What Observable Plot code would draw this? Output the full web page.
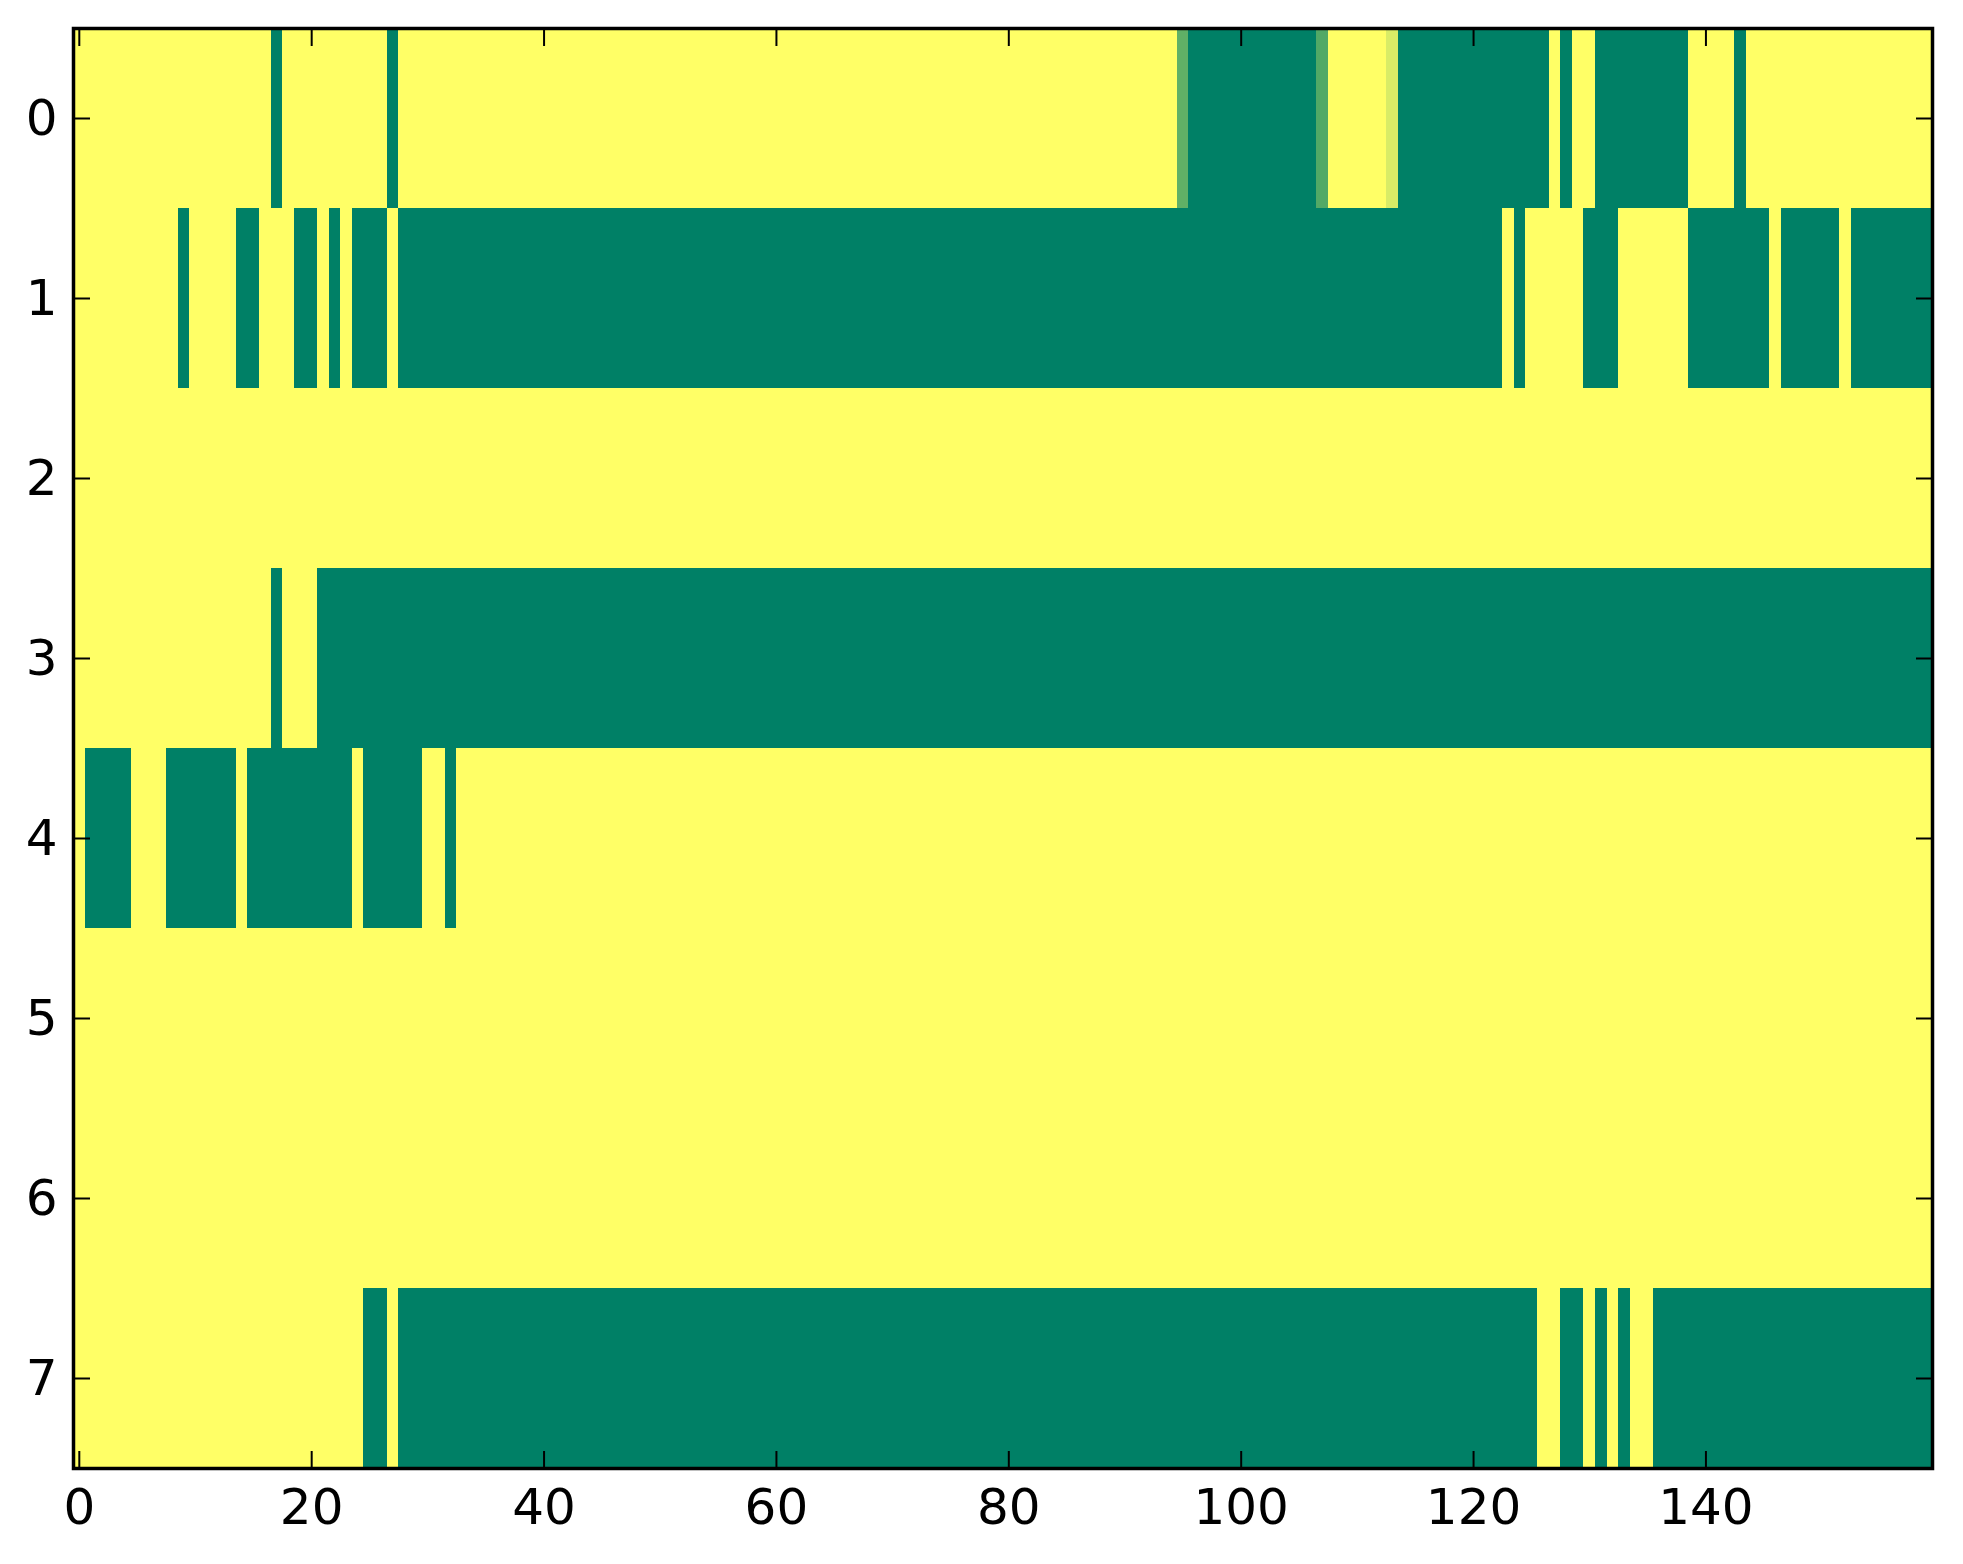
<!DOCTYPE html>
<html>
<head>
<meta charset="utf-8">
<script src="https://cdn.jsdelivr.net/npm/d3@7"></script>
<script src="https://cdn.jsdelivr.net/npm/@observablehq/plot@0.6"></script>
<style>
  html, body { margin: 0; padding: 0; background: #fff; }
</style>
</head>
<body>
<div id="chart"></div>
<script>
// ---- data (matplotlib imshow, "summer" colormap) ----
const nCols = 160;
const rowLabels = [0, 1, 2, 3, 4, 5, 6, 7];
const xTicks = [0, 20, 40, 60, 80, 100, 120, 140];

// columns whose value is 0 (dark green), as inclusive [start, end] ranges; all other cells are 1 (yellow)
const row0Green = [[17, 17], [27, 27], [96, 106], [114, 126], [128, 128], [131, 138], [143, 143]];
const row1Green = [[9, 9], [14, 15], [19, 20], [22, 22], [24, 26], [28, 122], [124, 124], [130, 132], [139, 145], [147, 151], [153, 159]];
const row2Green = [];
const row3Green = [[17, 17], [21, 159]];
const row4Green = [[1, 4], [8, 13], [15, 23], [25, 29], [32, 32]];
const row5Green = [];
const row6Green = [];
const row7Green = [[25, 26], [28, 125], [128, 129], [131, 131], [133, 133], [136, 159]];

// cells with intermediate values
const partialRows = [0, 0, 0];
const partialCols = [95, 107, 113];
const partialValues = [0.375, 0.32, 0.85];

const greenRuns = [row0Green, row1Green, row2Green, row3Green, row4Green, row5Green, row6Green, row7Green];

// ---- build the cell table ----
const cells = [];
rowLabels.forEach((r) => {
  for (let c = 0; c < nCols; c++) {
    const isGreen = greenRuns[r].some(([a, b]) => c >= a && c <= b);
    cells.push({row: r, col: c, value: isGreen ? 0 : 1});
  }
});
partialRows.forEach((r, i) => {
  const cell = cells.find((d) => d.row === r && d.col === partialCols[i]);
  cell.value = partialValues[i];
});

const tickLen = 17;
const blank = () => "";
const intFmt = (d) => String(d);

const chart = Plot.plot({
  width: 1963,
  height: 1564,
  marginLeft: 73,
  marginRight: 31,
  marginTop: 28,
  marginBottom: 96,
  style: {fontFamily: "DejaVu Sans", fontSize: "50px", background: "white", color: "black"},
  x: {domain: [-0.5, nCols - 0.5], label: null},
  y: {domain: [-0.5, rowLabels.length - 0.5], reverse: true, label: null},
  color: {type: "linear", domain: [0, 1], range: ["#008066", "#ffff66"], interpolate: "rgb"},
  marks: [
    Plot.rect(cells, {
      x1: (d) => d.col - 0.5,
      x2: (d) => d.col + 0.5,
      y1: (d) => d.row - 0.5,
      y2: (d) => d.row + 0.5,
      fill: "value",
      shapeRendering: "crispEdges"
    }),
    // tick labels
    Plot.axisX(xTicks, {anchor: "bottom", tickSize: 0, tickPadding: 20, tickFormat: intFmt, label: null, fontSize: 50}),
    Plot.axisY(rowLabels, {anchor: "left", tickSize: 0, tickPadding: 16, tickFormat: intFmt, label: null, fontSize: 50}),
    // inward ticks on all four sides
    Plot.axisX(xTicks, {anchor: "bottom", tickSize: tickLen, dy: -tickLen, tickFormat: blank, strokeWidth: 2, label: null}),
    Plot.axisX(xTicks, {anchor: "top", tickSize: tickLen, dy: tickLen, tickFormat: blank, strokeWidth: 2, label: null}),
    Plot.axisY(rowLabels, {anchor: "left", tickSize: tickLen, dx: tickLen, tickFormat: blank, strokeWidth: 2, label: null}),
    Plot.axisY(rowLabels, {anchor: "right", tickSize: tickLen, dx: -tickLen, tickFormat: blank, strokeWidth: 2, label: null}),
    Plot.frame({stroke: "black", strokeWidth: 3.5})
  ]
});

document.getElementById("chart").appendChild(chart);
</script>
</body>
</html>
